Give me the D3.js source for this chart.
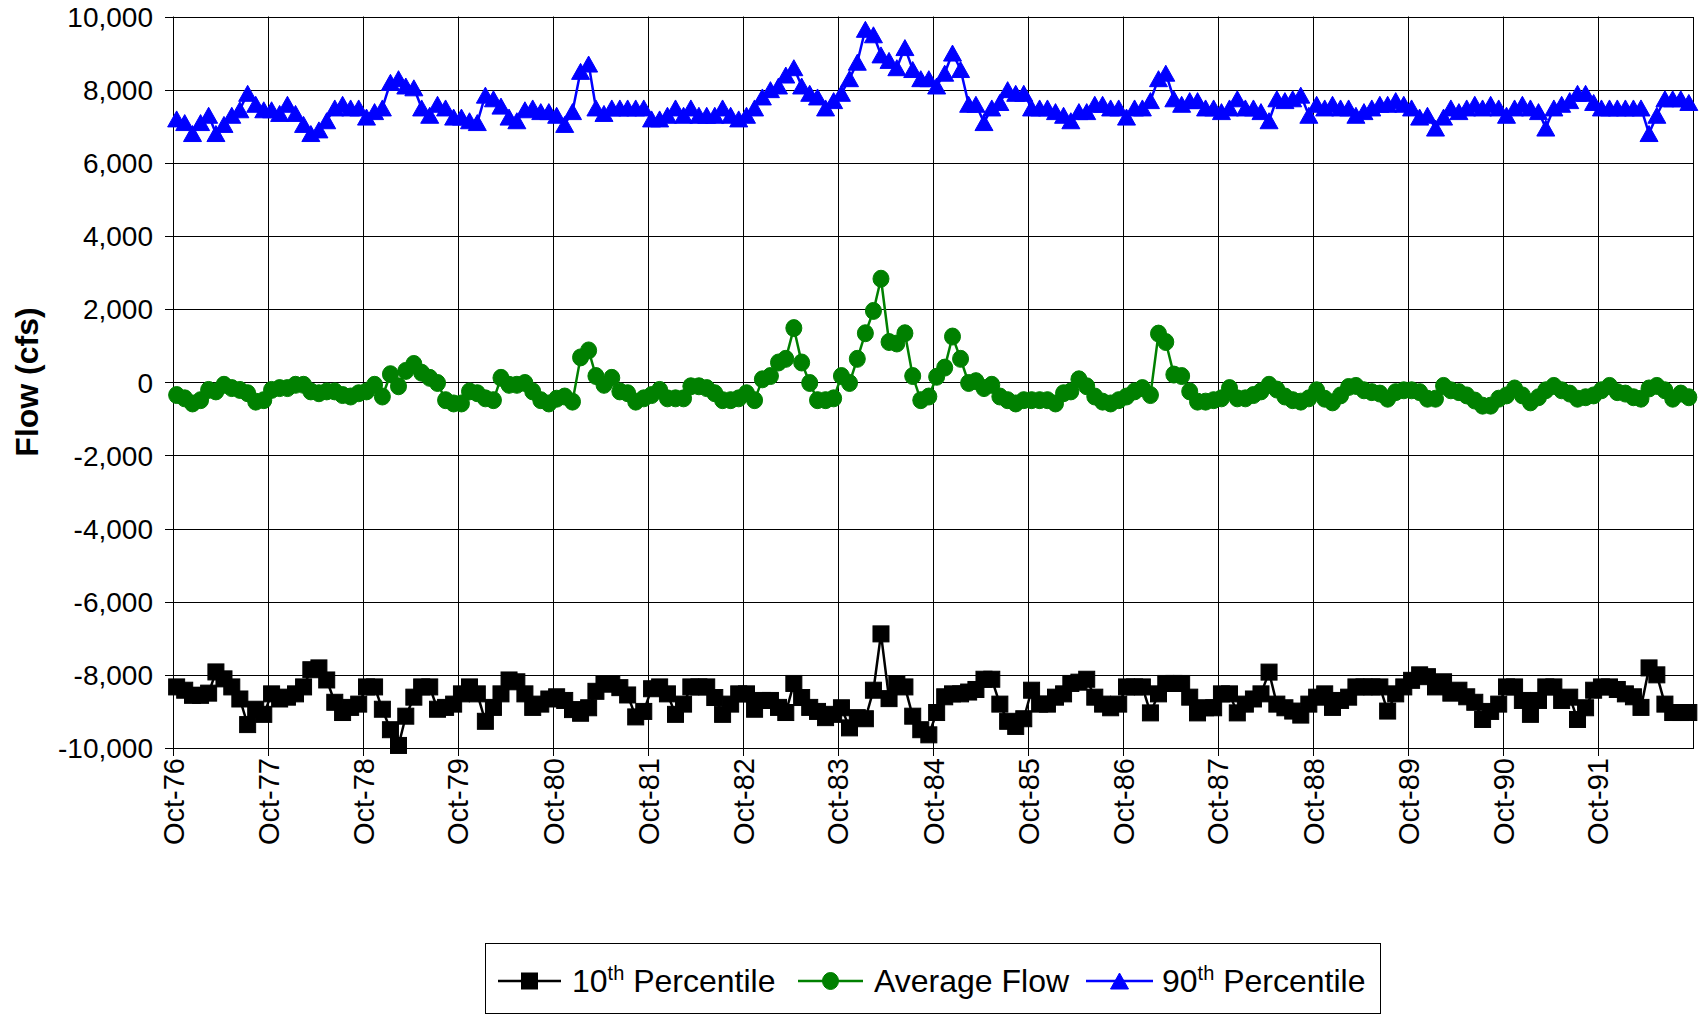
<!DOCTYPE html>
<html><head><meta charset="utf-8">
<script src="https://cdn.jsdelivr.net/npm/d3@7"></script>
<style>
body{margin:0;background:#fff}
svg{display:block}
text{font-family:"Liberation Sans",Arial,Helvetica,sans-serif;fill:#000}
</style>
</head><body>
<svg id="chart" width="1703" height="1015"></svg>
<script>
// ---- data (monthly, Oct-76 .. Sep-92) ----
const startYear = 1976, startMonth = 9; // October
const p10 = [
-8330,-8420,-8560,-8560,-8500,-7920,-8110,-8330,-8660,-9360,-8940,-9080,
-8520,-8660,-8610,-8520,-8330,-7860,-7810,-8140,-8750,-9030,-8890,-8800,
-8330,-8330,-8940,-9500,-9930,-9130,-8610,-8330,-8330,-8940,-8890,-8800,
-8520,-8330,-8520,-9270,-8890,-8520,-8140,-8190,-8520,-8890,-8800,-8660,
-8600,-8700,-8950,-9050,-8900,-8450,-8250,-8250,-8350,-8550,-9150,-9000,
-8380,-8330,-8520,-9080,-8800,-8330,-8330,-8330,-8620,-9080,-8800,-8520,
-8520,-8940,-8700,-8700,-8890,-9030,-8235,-8620,-8890,-9000,-9170,-9080,
-8900,-9450,-9170,-9200,-8420,-6880,-8650,-8250,-8330,-9130,-9500,-9640,
-9030,-8600,-8520,-8520,-8470,-8400,-8120,-8120,-8800,-9270,-9410,-9200,
-8420,-8800,-8800,-8610,-8520,-8235,-8200,-8120,-8610,-8800,-8900,-8800,
-8330,-8330,-8330,-9040,-8520,-8235,-8235,-8235,-8610,-9040,-8900,-8900,
-8520,-8520,-9040,-8800,-8660,-8520,-7925,-8800,-8900,-8990,-9100,-8800,
-8610,-8520,-8890,-8700,-8610,-8330,-8330,-8330,-8330,-8990,-8520,-8330,
-8150,-8000,-8050,-8330,-8190,-8500,-8420,-8600,-8750,-9220,-9000,-8800,
-8330,-8330,-8700,-9080,-8700,-8330,-8330,-8700,-8610,-9220,-8900,-8420,
-8330,-8330,-8400,-8520,-8600,-8890,-7810,-8000,-8800,-9030,-9030,-9030
];
const avg = [
-350,-440,-580,-490,-210,-250,-70,-160,-210,-300,-530,-490,
-210,-160,-160,-70,-70,-250,-300,-250,-250,-350,-390,-300,
-250,-70,-390,220,-110,310,500,260,120,-20,-490,-580,
-580,-250,-300,-440,-490,120,-70,-70,-20,-250,-490,-580,
-450,-390,-530,680,870,170,-70,120,-250,-300,-530,-440,
-350,-210,-440,-440,-440,-110,-110,-160,-300,-490,-490,-440,
-300,-490,80,170,540,640,1480,540,-20,-490,-490,-440,
170,-20,640,1340,1950,2830,1100,1060,1340,170,-490,-390,
150,400,1250,640,-20,30,-160,-70,-390,-490,-580,-490,
-490,-490,-490,-580,-300,-250,80,-110,-390,-530,-580,-490,
-390,-250,-160,-350,1330,1100,210,170,-250,-530,-530,-490,
-440,-160,-440,-440,-350,-250,-70,-200,-390,-490,-530,-440,
-220,-450,-550,-360,-130,-100,-220,-270,-310,-450,-270,-220,
-220,-270,-450,-450,-100,-220,-270,-360,-500,-640,-640,-450,
-360,-170,-360,-550,-410,-220,-100,-220,-310,-450,-410,-360,
-220,-100,-270,-310,-410,-450,-170,-100,-220,-450,-310,-410
];
const p90 = [
7200,7100,6800,7100,7300,6800,7050,7300,7450,7900,7600,7450,
7450,7350,7600,7350,7050,6800,6900,7150,7500,7600,7500,7500,
7250,7400,7500,8200,8300,8100,8050,7500,7300,7600,7500,7250,
7250,7150,7100,7850,7750,7550,7250,7150,7450,7500,7400,7400,
7300,7050,7400,8500,8700,7500,7350,7500,7500,7500,7500,7500,
7200,7200,7300,7500,7300,7500,7300,7300,7300,7500,7300,7200,
7300,7500,7800,8000,8100,8400,8600,8100,7900,7800,7500,7700,
7900,8300,8750,9650,9500,8950,8800,8600,9150,8550,8300,8300,
8100,8450,9000,8550,7600,7600,7100,7500,7650,8000,7900,7900,
7500,7500,7500,7400,7300,7150,7400,7400,7600,7600,7500,7500,
7250,7500,7500,7700,8300,8450,7750,7600,7700,7700,7500,7500,
7400,7500,7750,7500,7500,7400,7150,7750,7700,7750,7850,7300,
7600,7500,7600,7500,7500,7300,7400,7500,7600,7600,7700,7600,
7500,7250,7300,6950,7250,7500,7400,7500,7600,7500,7600,7500,
7300,7500,7600,7500,7400,6950,7500,7600,7700,7900,7900,7650,
7500,7500,7500,7500,7500,7500,6800,7300,7750,7750,7750,7650
];
const yTickValues = [-10000,-8000,-6000,-4000,-2000,0,2000,4000,6000,8000,10000];
const tickYears = [1976,1977,1978,1979,1980,1981,1982,1983,1984,1985,1986,1987,1988,1989,1990,1991];
const seriesColors = ["#000000","#008000","#0000FF"];
const seriesShapes = ["square","circle","triangle"];

// ---- layout ----
const plot = {left:173, right:1693, top:16.5, bottom:748};
const svg = d3.select("#chart");

const dates = p10.map((_, i) => new Date(startYear, startMonth + i, 15));
const x = d3.scaleTime()
  .domain([new Date(1976, 9, 1), new Date(1992, 9, 1)])
  .range([plot.left, plot.right]);
const y = d3.scaleLinear().domain([-10000, 10000]).range([plot.bottom, plot.top]);

const loc = d3.formatLocale({decimal:".", thousands:",", grouping:[3], currency:["$",""], minus:"-"});
const fmtY = loc.format(",");
const fmtX = d3.timeFormat("%b-%y");
const xTickDates = tickYears.map(yr => new Date(yr, 9, 1));

// gridlines
const grid = svg.append("g");
grid.selectAll(".hg").data(yTickValues).join("line")
  .attr("x1", plot.left - 8).attr("x2", plot.right)
  .attr("y1", d => Math.round(y(d)) + 0.5).attr("y2", d => Math.round(y(d)) + 0.5)
  .attr("stroke", "#000").attr("stroke-width", 1);
grid.selectAll(".vg").data(xTickDates).join("line")
  .attr("x1", d => Math.round(x(d)) + 0.5).attr("x2", d => Math.round(x(d)) + 0.5)
  .attr("y1", plot.top).attr("y2", plot.bottom + 8)
  .attr("stroke", "#000").attr("stroke-width", 1);
svg.append("rect")
  .attr("x", plot.left + 0.5).attr("y", Math.round(plot.top) + 0.5)
  .attr("width", plot.right - plot.left).attr("height", Math.round(plot.bottom) - Math.round(plot.top))
  .attr("fill", "none").attr("stroke", "#000").attr("stroke-width", 1);

// y axis labels
const yAxis = d3.axisLeft(y).tickValues(yTickValues).tickFormat(fmtY).tickSize(0).tickPadding(0);
const gy = svg.append("g").attr("transform", `translate(${plot.left - 20},0)`).call(yAxis);
gy.select(".domain").remove();
gy.selectAll("text").attr("font-size", 28).attr("font-family", '"Liberation Sans", Arial, sans-serif').attr("fill", "#000").attr("dy", "0.35em");

// x axis labels (rotated)
const xAxis = d3.axisBottom(x).tickValues(xTickDates).tickFormat(fmtX).tickSize(0).tickPadding(0);
const gx = svg.append("g").attr("transform", `translate(0,${plot.bottom + 10})`).call(xAxis);
gx.select(".domain").remove();
gx.selectAll("text")
  .attr("font-size", 29).attr("font-family", '"Liberation Sans", Arial, sans-serif').attr("fill", "#000")
  .attr("text-anchor", "end").attr("transform", "rotate(-90)")
  .attr("x", 0).attr("y", 0).attr("dx", 0).attr("dy", "0.35em");

// y title
svg.append("text")
  .attr("transform", `translate(27,382) rotate(-90)`)
  .attr("text-anchor", "middle").attr("dy", "0.35em")
  .attr("font-size", 32).attr("font-weight", "bold")
  .text("Flow (cfs)");

// markers
function marker(g, shape, color) {
  if (shape === "square") {
    g.append("rect").attr("x", -8).attr("y", -8).attr("width", 16).attr("height", 16)
      .attr("fill", color).attr("stroke", color).attr("stroke-width", 1);
  } else if (shape === "circle") {
    g.append("ellipse").attr("rx", 8).attr("ry", 8.5).attr("fill", color).attr("stroke", color).attr("stroke-width", 1);
  } else {
    g.append("path").attr("d", "M0,-8L9,8L-9,8Z").attr("fill", color).attr("stroke", color).attr("stroke-width", 1).attr("stroke-linejoin", "round");
  }
}

const allSeries = [p10, avg, p90];
const line = d3.line().x((d, i) => x(dates[i])).y(d => y(d));
allSeries.forEach((vals, s) => {
  const g = svg.append("g");
  g.append("path").datum(vals).attr("d", line)
    .attr("fill", "none").attr("stroke", seriesColors[s]).attr("stroke-width", 2.5).attr("stroke-linejoin", "round");
  g.selectAll("g.m").data(vals).join("g")
    .attr("transform", (d, i) => `translate(${x(dates[i])},${y(d)})`)
    .each(function() { marker(d3.select(this), seriesShapes[s], seriesColors[s]); });
});

// legend
const lg = svg.append("g");
lg.append("rect").attr("x", 485.5).attr("y", 943.5).attr("width", 895).attr("height", 70)
  .attr("fill", "#fff").attr("stroke", "#000").attr("stroke-width", 1);
const legItems = [
  {lx1:498, lx2:561, tx:572, pre:"10", sup:"th", post:" Percentile"},
  {lx1:798, lx2:863, tx:874, pre:"Average Flow", sup:"", post:""},
  {lx1:1086, lx2:1153, tx:1162, pre:"90", sup:"th", post:" Percentile"}
];
const ly = 981;
legItems.forEach((it, s) => {
  lg.append("line").attr("x1", it.lx1).attr("x2", it.lx2).attr("y1", ly).attr("y2", ly)
    .attr("stroke", seriesColors[s]).attr("stroke-width", 2.5);
  marker(lg.append("g").attr("transform", `translate(${(it.lx1 + it.lx2) / 2},${ly})`), seriesShapes[s], seriesColors[s]);
  const t = lg.append("text").attr("x", it.tx).attr("y", ly + 11).attr("font-size", 32);
  t.append("tspan").text(it.pre);
  if (it.sup) {
    t.append("tspan").attr("dy", -12).attr("font-size", 20).text(it.sup);
    t.append("tspan").attr("dy", 12).text(it.post);
  }
});
</script>
</body></html>
